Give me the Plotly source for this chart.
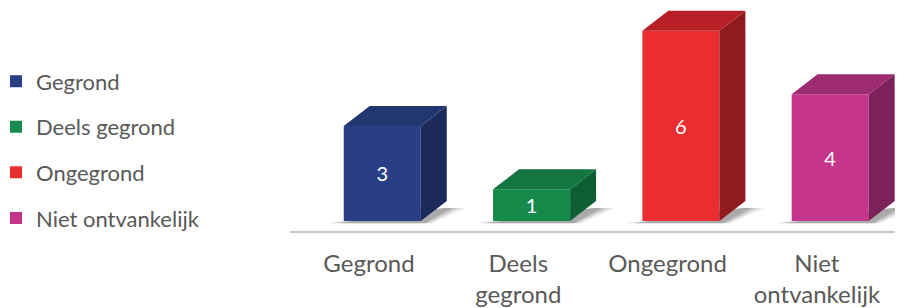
import plotly.graph_objects as go

# ---- data ----
categories = ["Gegrond", "Deels gegrond", "Ongegrond", "Niet ontvankelijk"]
tick_labels = ["Gegrond", "Deels<br>gegrond", "Ongegrond", "Niet<br>ontvankelijk"]
values = [3, 1, 6, 4]

# ---- style ----
front_colors = ["#283f86", "#168a4a", "#ea2d2f", "#c5358b"]
top_colors = ["#22366f", "#137540", "#b51f25", "#9e2a6f"]
side_colors = ["#1b2a5a", "#0f5f34", "#8f1b1e", "#7d2258"]

FONT = "Lato, 'Open Sans', sans-serif"
GREY = "#595959"

F_LEFT = -0.169   # front face left edge, relative to category centre
F_W = 0.516       # front face width (category units)
DX = 0.174        # depth, x (category units)
DY = 0.63         # depth, y (value units)

fig = go.Figure()

xs = list(range(len(categories)))

# soft shadows at the base of the bars
for i, v in zip(xs, values):
    xl = i + F_LEFT
    xr = xl + F_W
    for ex, op in [(0.13, 0.06), (0.10, 0.08), (0.07, 0.10), (0.04, 0.14)]:
        fig.add_shape(
            type="path",
            path=(f"M{xl - ex},{-0.07} L{xr + ex*0.6},{-0.07} "
                  f"L{xr + DX + ex},{DY*0.65} L{xr + DX - 0.02},{DY*0.65} Z"),
            fillcolor=f"rgba(0,0,0,{op})", line=dict(width=0), layer="below",
        )

# front faces
for i, (c, v) in enumerate(zip(categories, values)):
    fig.add_trace(go.Bar(
        x=[xs[i]], y=[v], name=c, offset=F_LEFT, width=F_W,
        marker=dict(color=front_colors[i], line=dict(width=0)),
        text=[str(v)], textposition="inside", insidetextanchor="middle",
        textfont=dict(color="white", size=20, family=FONT),
        legendgroup=c, hoverinfo="x+y",
    ))

# side and top faces
for i, v in enumerate(values):
    xl = xs[i] + F_LEFT
    xr = xl + F_W
    fig.add_trace(go.Scatter(
        x=[xr, xr + DX, xr + DX, xr, xr], y=[0, DY, v + DY, v, 0],
        mode="lines", fill="toself", fillcolor=side_colors[i],
        line=dict(width=0, color=side_colors[i]), showlegend=False, hoverinfo="skip",
    ))
    fig.add_trace(go.Scatter(
        x=[xl, xr, xr + DX, xl + DX, xl], y=[v, v, v + DY, v + DY, v],
        mode="lines", fill="toself", fillcolor=top_colors[i],
        line=dict(width=0, color=top_colors[i]), showlegend=False, hoverinfo="skip",
    ))

fig.update_layout(
    width=905, height=308,
    margin=dict(l=282, r=18, t=0, b=85),
    paper_bgcolor="white", plot_bgcolor="white",
    barmode="overlay",
    font=dict(family=FONT, color=GREY),
    showlegend=True,
    legend=dict(
        xref="container", yref="container", x=0.0, y=0.83,
        xanchor="left", yanchor="top", maxheight=300, indentation=-12,
        font=dict(size=22, color=GREY, family=FONT),
        tracegroupgap=14, itemclick=False, itemdoubleclick=False,
        bgcolor="rgba(0,0,0,0)",
    ),
    xaxis=dict(
        range=[-0.529, 3.523], tickmode="array", tickvals=xs, ticktext=tick_labels,
        showgrid=False, zeroline=False, showline=True, linecolor="#c8c8c8", linewidth=2,
        ticks="", ticklabelstandoff=10, automargin=False,
        tickfont=dict(size=24, color=GREY, family=FONT), fixedrange=True,
    ),
    yaxis=dict(
        range=[-0.3155, 6.72], showgrid=False, zeroline=False, showticklabels=False,
        showline=False, fixedrange=True,
    ),
)

fig.write_html("out.html")
